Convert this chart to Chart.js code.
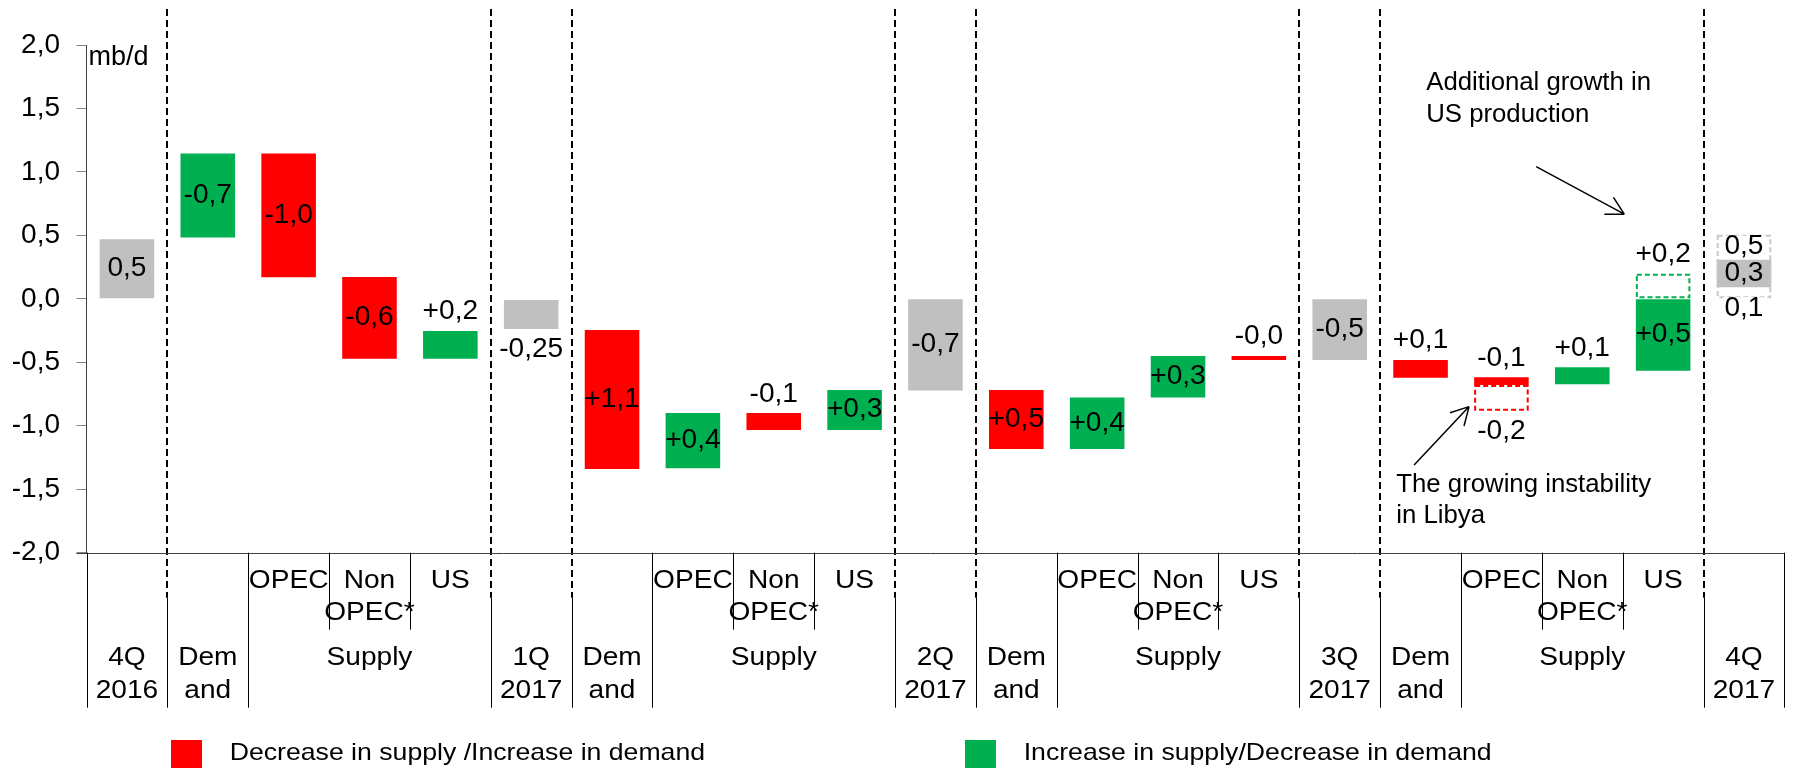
<!DOCTYPE html>
<html>
<head>
<meta charset="utf-8">
<script src="https://cdn.jsdelivr.net/npm/chart.js@4.4.0/dist/chart.umd.min.js"></script>
<style>
  html, body { margin: 0; padding: 0; background: #fff; }
  #wrap { width: 1793px; height: 768px; }
</style>
</head>
<body>
<div id="wrap"><canvas id="balanceChart"></canvas></div>
<script>
// Categories: quarter levels, demand change, supply changes
const categories = [
  ['4Q', '2016'], ['Dem', 'and'], ['OPEC'], ['Non', 'OPEC*'], ['US'],
  ['1Q', '2017'], ['Dem', 'and'], ['OPEC'], ['Non', 'OPEC*'], ['US'],
  ['2Q', '2017'], ['Dem', 'and'], ['OPEC'], ['Non', 'OPEC*'], ['US'],
  ['3Q', '2017'], ['Dem', 'and'], ['OPEC'], ['Non', 'OPEC*'], ['US'],
  ['4Q', '2017']
];
const groups = [
  'period', 'demand', 'supply', 'supply', 'supply',
  'period', 'demand', 'supply', 'supply', 'supply',
  'period', 'demand', 'supply', 'supply', 'supply',
  'period', 'demand', 'supply', 'supply', 'supply',
  'period'
];
const supplyLabel = 'Supply';

// floating bars [from, to], mb/d
const balanceLevel = [[0, 0.47], null, null, null, null, [-0.237, -0.01], null, null, null, null,
  [-0.723, 0], null, null, null, null, [-0.481, 0], null, null, null, null, [0.092, 0.308]];
const decreaseSupply = [null, null, [0.17, 1.145], [-0.471, 0.172], null, null, [-1.34, -0.245], null,
  [-1.033, -0.9], null, null, [-1.183, -0.718], null, null, [-0.481, -0.45], null, [-0.621, -0.481],
  [-0.679, -0.618], null, null, null];
const increaseSupply = [null, [0.484, 1.145], null, null, [-0.471, -0.253], null, null, [-1.335, -0.9],
  null, [-1.033, -0.718], null, null, [-1.183, -0.778], [-0.778, -0.45], null, null, null, null,
  [-0.673, -0.539], [-0.566, 0], null];
const libyaRisk = [null, null, null, null, null, null, null, null, null, null, null, null, null, null,
  null, null, null, [-0.882, -0.679], null, null, null];
const usUpside = [null, null, null, null, null, null, null, null, null, null, null, null, null, null,
  null, null, null, null, null, [0, 0.197], null];
const forecastRange = [null, null, null, null, null, null, null, null, null, null, null, null, null,
  null, null, null, null, null, null, null, [0, 0.505]];

const yTickLabels = ['-2,0', '-1,5', '-1,0', '-0,5', '0,0', '0,5', '1,0', '1,5', '2,0'];

const barLabels = ['0,5', '-0,7', '-1,0', '-0,6', '+0,2', '-0,25', '+1,1', '+0,4', '-0,1', '+0,3', '-0,7',
  '+0,5', '+0,4', '+0,3', '-0,0', '-0,5', '+0,1', '-0,1', '+0,1', '+0,5', '0,3'];
const labelPlace = ['in', 'in', 'in', 'in', 'above', 'below', 'in', 'in', 'above', 'in', 'in',
  'in', 'in', 'in', 'above', 'in', 'above', 'above', 'above', 'in', 'in'];
const rangeLabels = [
  { index: 17, text: '-0,2', place: 'below', key: 'libya' },
  { index: 19, text: '+0,2', place: 'above', key: 'upside' },
  { index: 20, text: '0,5', place: 'inTop', key: 'range', bg: true },
  { index: 20, text: '0,1', place: 'below', key: 'level', bg: true }
];

// annotations, in (category, value) coordinates
const notes = [
  { lines: ['Additional growth in', 'US production'], at: [16.07, 1.70] },
  { lines: ['The growing instability', 'in Libya'], at: [15.70, -1.465] }
];
const arrows = [
  { from: [17.43, 1.042], to: [18.52, 0.667] },
  { from: [15.92, -1.309], to: [16.60, -0.849] }
];

const FONT = "'Liberation Sans', Arial, sans-serif";
const RED = '#FF0000', GREEN = '#00B050', GREY = '#C0C0C0';

function rectOf(el) {
  const p = el.getProps(['x', 'y', 'base', 'width'], true);
  const top = Math.min(p.y, p.base), bottom = Math.max(p.y, p.base);
  return { left: p.x - p.width / 2, width: p.width, cx: p.x, top: top, bottom: bottom };
}

function findRect(chart, key, index) {
  const ds = chart.data.datasets.findIndex(d => d.key === key);
  if (ds < 0 || chart.data.datasets[ds].data[index] == null) return null;
  return rectOf(chart.getDatasetMeta(ds).data[index]);
}

// text helper, sx stretches the glyphs horizontally a little
function drawText(ctx, text, x, y, size, align, sx) {
  ctx.save();
  ctx.font = size + 'px ' + FONT;
  ctx.fillStyle = '#000';
  ctx.textAlign = align || 'center';
  ctx.textBaseline = 'middle';
  ctx.translate(x, y);
  ctx.scale(sx || 1, 1);
  ctx.fillText(text, 0, 0);
  ctx.restore();
}

function placeY(r, place) {
  if (place === 'above') return r.top - 19;
  if (place === 'below') return r.bottom + 21;
  if (place === 'inTop') return r.top + 12;
  return (r.top + r.bottom) / 2;
}

const extras = {
  id: 'waterfallExtras',
  beforeDatasetsDraw(chart) {
    const ctx = chart.ctx, x = chart.scales.x, area = chart.chartArea;
    ctx.save();
    ctx.strokeStyle = '#000';
    ctx.lineWidth = 2;
    ctx.setLineDash([7, 4]);
    for (let k = 1; k < categories.length; k++) {
      if (groups[k - 1] !== 'period' && groups[k] !== 'period') continue;
      const px = Math.round(x.getPixelForValue(k - 0.5));
      ctx.beginPath();
      ctx.moveTo(px, 9);
      ctx.lineTo(px, area.bottom + 45);
      ctx.stroke();
    }
    ctx.restore();
  },
  afterDatasetsDraw(chart) {
    const ctx = chart.ctx;
    ctx.save();
    // dashed outlines
    chart.data.datasets.forEach((d, di) => {
      if (!d.outline) return;
      chart.getDatasetMeta(di).data.forEach((el, i) => {
        if (d.data[i] == null) return;
        const r = rectOf(el);
        ctx.strokeStyle = d.outline;
        ctx.lineWidth = 2;
        ctx.setLineDash([5, 3]);
        ctx.strokeRect(r.left + 1, r.top + 1, r.width - 2, r.bottom - r.top - 2);
      });
    });
    ctx.setLineDash([]);
    // value labels
    barLabels.forEach((t, i) => {
      const r = findRect(chart, 'level', i) || findRect(chart, 'down', i) || findRect(chart, 'up', i);
      if (!r) return;
      drawText(ctx, t, r.cx, placeY(r, labelPlace[i]), 27, 'center', 1.04);
    });
    rangeLabels.forEach(l => {
      const r = findRect(chart, l.key, l.index);
      if (!r) return;
      const y = placeY(r, l.place);
      if (l.bg) {
        ctx.font = '27px ' + FONT;
        const w = ctx.measureText(l.text).width;
        ctx.fillStyle = '#fff';
        ctx.fillRect(r.cx - w / 2 - 2, y - 11, w + 4, 22);
      }
      drawText(ctx, l.text, r.cx, y, 27, 'center', 1.04);
    });
    ctx.restore();
  },
  afterDraw(chart) {
    const ctx = chart.ctx, x = chart.scales.x, y = chart.scales.y, area = chart.chartArea;
    const bottom = area.bottom;
    const n = categories.length;
    const right = x.getPixelForValue(n - 0.5);
    ctx.save();
    // x axis line
    ctx.strokeStyle = '#404040';
    ctx.lineWidth = 1;
    ctx.beginPath();
    ctx.moveTo(area.left - 10, Math.round(bottom) + 0.5);
    ctx.lineTo(right, Math.round(bottom) + 0.5);
    ctx.stroke();
    // table lines
    ctx.strokeStyle = '#000';
    for (let k = 0; k <= n; k++) {
      const px = Math.round(x.getPixelForValue(k - 0.5)) + 0.5;
      const a = groups[k - 1], b = groups[k];
      let y0 = bottom, y1 = bottom + 155;
      if (a && b && a === b) y1 = bottom + 77;
      else if (a && b && (a === 'period' || b === 'period')) y0 = bottom + 45;
      ctx.beginPath();
      ctx.moveTo(px, y0);
      ctx.lineTo(px, y1);
      ctx.stroke();
    }
    // category texts
    const rows = [28.5, 60, 105, 138.5];
    categories.forEach((c, i) => {
      const cx = x.getPixelForValue(i);
      const base = groups[i] === 'supply' ? 0 : 2;
      c.forEach((t, j) => drawText(ctx, t, cx, bottom + rows[base + j], 26, 'center', 1.08));
    });
    for (let i = 0; i < n; i++) {
      if (groups[i] === 'supply' && groups[i - 1] !== 'supply') {
        let j = i;
        while (groups[j + 1] === 'supply') j++;
        drawText(ctx, supplyLabel, (x.getPixelForValue(i) + x.getPixelForValue(j)) / 2, bottom + rows[2], 26, 'center', 1.08);
      }
    }
    // unit
    ctx.font = '27px ' + FONT;
    ctx.textAlign = 'left';
    ctx.textBaseline = 'alphabetic';
    ctx.fillStyle = '#000';
    ctx.fillText('mb/d', area.left + 2, 65);
    // legend
    const legendX = [171, 965];
    chart.data.datasets.filter(d => d.inLegend).forEach((d, i) => {
      ctx.fillStyle = d.backgroundColor;
      ctx.fillRect(legendX[i], 740, 31, 31);
      drawText(ctx, d.label, legendX[i] + 58.7, 753, 24, 'left', 1.11);
    });
    // notes and arrows
    notes.forEach(nt => {
      const nx = x.getPixelForValue(nt.at[0]), ny = y.getPixelForValue(nt.at[1]);
      nt.lines.forEach((t, j) => drawText(ctx, t, nx, ny + j * 31.7, 25, 'left', 1.03));
    });
    ctx.strokeStyle = '#000';
    ctx.lineWidth = 1.5;
    arrows.forEach(ar => {
      const x0 = x.getPixelForValue(ar.from[0]), y0 = y.getPixelForValue(ar.from[1]);
      const x1 = x.getPixelForValue(ar.to[0]), y1 = y.getPixelForValue(ar.to[1]);
      const ang = Math.atan2(y1 - y0, x1 - x0);
      ctx.beginPath();
      ctx.moveTo(x0, y0);
      ctx.lineTo(x1, y1);
      [-0.5, 0.5].forEach(s => {
        ctx.moveTo(x1, y1);
        ctx.lineTo(x1 - 20 * Math.cos(ang + s), y1 - 20 * Math.sin(ang + s));
      });
      ctx.stroke();
    });
    ctx.restore();
  }
};

const barDefaults = { grouped: false, categoryPercentage: 1, barPercentage: 0.675, borderWidth: 0 };

new Chart(document.getElementById('balanceChart'), {
  type: 'bar',
  data: {
    labels: categories.map(c => c.join(' ')),
    datasets: [
      Object.assign({ key: 'level', label: 'Balance', data: balanceLevel, backgroundColor: GREY }, barDefaults),
      Object.assign({ key: 'down', label: 'Decrease in supply /Increase in demand', data: decreaseSupply,
        backgroundColor: RED, inLegend: true }, barDefaults),
      Object.assign({ key: 'up', label: 'Increase in supply/Decrease in demand', data: increaseSupply,
        backgroundColor: GREEN, inLegend: true }, barDefaults),
      Object.assign({ key: 'libya', label: 'Libya risk', data: libyaRisk,
        backgroundColor: 'rgba(0,0,0,0)', outline: RED }, barDefaults),
      Object.assign({ key: 'upside', label: 'US upside', data: usUpside,
        backgroundColor: 'rgba(0,0,0,0)', outline: GREEN }, barDefaults),
      Object.assign({ key: 'range', label: 'Forecast range', data: forecastRange,
        backgroundColor: 'rgba(0,0,0,0)', outline: '#C8C8C8' }, barDefaults)
    ]
  },
  options: {
    responsive: true,
    maintainAspectRatio: false,
    animation: false,
    layout: { padding: { top: 45, bottom: 215.3, left: 0, right: 8.6 } },
    plugins: { legend: { display: false }, tooltip: { enabled: false } },
    scales: {
      x: { display: false, offset: true },
      y: {
        min: -2,
        max: 2,
        ticks: {
          stepSize: 0.5,
          color: '#000',
          padding: 16.5,
          font: { family: FONT, size: 28 },
          callback: (v, i) => yTickLabels[i]
        },
        grid: { drawOnChartArea: false, drawTicks: true, tickLength: 10, color: '#868686' },
        border: { display: true, color: '#404040', width: 1 },
        afterFit: scale => { scale.width = 86.5; }
      }
    }
  },
  plugins: [extras]
});
</script>
</body>
</html>
